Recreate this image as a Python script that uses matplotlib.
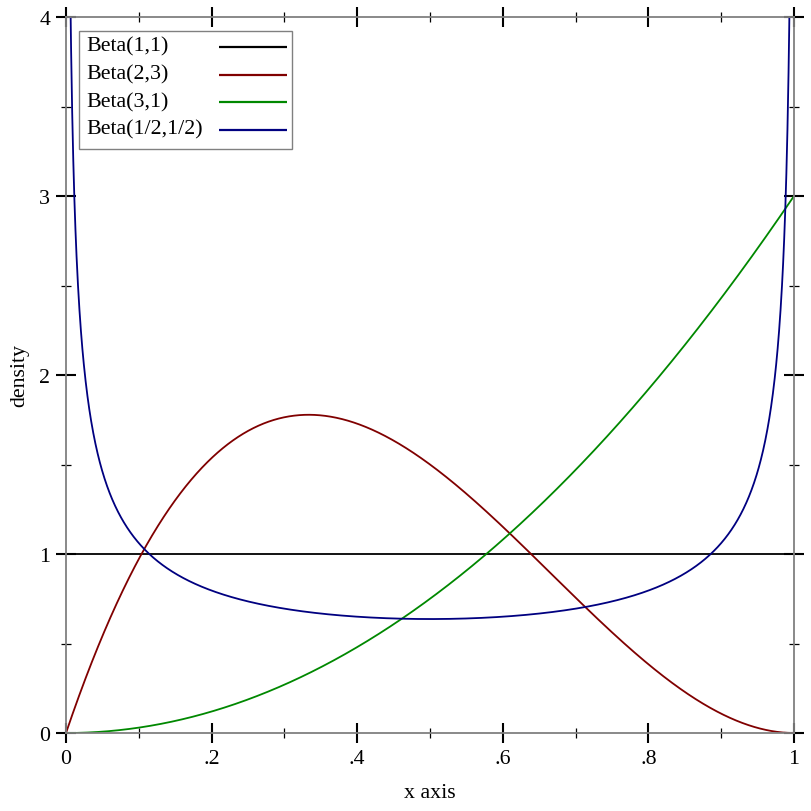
import math
import numpy as np
import matplotlib
matplotlib.use('Agg')
import matplotlib.pyplot as plt
from matplotlib.patches import Rectangle
from matplotlib.ticker import MultipleLocator, FixedLocator, FixedFormatter

# Data: Beta distribution parameters
labels = ['Beta(1,1)', 'Beta(2,3)', 'Beta(3,1)', 'Beta(1/2,1/2)']
alphas = [1.0, 2.0, 3.0, 0.5]
betas = [1.0, 3.0, 1.0, 0.5]
colors = ['#000000', '#800000', '#008800', '#000080']

x_ticks = [0, 0.2, 0.4, 0.6, 0.8, 1.0]
x_ticklabels = ['0', '.2', '.4', '.6', '.8', '1']
y_ticks = [0, 1, 2, 3, 4]


def beta_pdf(x, a, b):
    norm = math.gamma(a + b) / (math.gamma(a) * math.gamma(b))
    return norm * x ** (a - 1) * (1 - x) ** (b - 1)


fs = 15.75
plt.rcParams['font.family'] = ['Liberation Serif', 'DejaVu Serif']
plt.rcParams['font.size'] = fs

W = H = 812
L, R, T, B = 66, 794, 18, 734
fig = plt.figure(figsize=(8.12, 8.12), dpi=100, facecolor='white')
ax = fig.add_axes([L / W, 1 - B / H, (R - L) / W, (B - T) / H])


def ax_xy(px, py):
    # pixel position -> axes fraction
    return (px - L) / (R - L), (B - py) / (B - T)


xs = np.linspace(0.0005, 0.9995, 2000)
for lab, a, b, c in zip(labels, alphas, betas, colors):
    if a == 1 and b == 1:
        xx = np.array([0.0, 1.0])
    elif a >= 1 and b >= 1:
        xx = np.concatenate([[0.0], xs, [1.0]])
    else:
        xx = xs
    ax.plot(xx, beta_pdf(xx, a, b), color=c, lw=1.3, solid_capstyle='butt')

ax.set_xlim(0, 1)
ax.set_ylim(0, 4)

for s in ax.spines.values():
    s.set_color('#808080')
    s.set_linewidth(1.3)

ax.xaxis.set_major_locator(FixedLocator(x_ticks))
ax.xaxis.set_major_formatter(FixedFormatter(x_ticklabels))
ax.xaxis.set_minor_locator(MultipleLocator(0.1))
ax.yaxis.set_major_locator(FixedLocator(y_ticks))
ax.yaxis.set_minor_locator(MultipleLocator(0.5))

ax.tick_params(which='major', direction='inout', length=15, width=1.5,
               color='black', top=True, right=True, labelsize=fs, pad=4)
ax.tick_params(which='minor', direction='inout', length=7.2, width=0.9,
               color='black', top=True, right=True)

ax.set_xlabel('x axis', fontsize=fs)
ax.xaxis.set_label_coords(*ax_xy((L + R) / 2, 794))
ax.xaxis.label.set_va('center')
ax.set_ylabel('density', fontsize=fs)
ax.yaxis.set_label_coords(*ax_xy(19.5, (T + B) / 2))
ax.yaxis.label.set_va('center')

# legend drawn by hand: label on the left, line sample on the right
x0, y0 = ax_xy(79, 150)
x1, y1 = ax_xy(292, 32)
ax.add_patch(Rectangle((x0, y0), x1 - x0, y1 - y0, transform=ax.transAxes,
                       facecolor='white', edgecolor='#808080', lw=1.0,
                       zorder=5, clip_on=False))
for i, (lab, c) in enumerate(zip(labels, colors)):
    py = 47 + i * 27.7
    tx, ty = ax_xy(86, py)
    ax.text(tx, ty, lab, transform=ax.transAxes, ha='left', va='center',
            fontsize=fs, zorder=6)
    lx0, ly = ax_xy(219, py + 1)
    lx1, _ = ax_xy(287, py + 1)
    ax.plot([lx0, lx1], [ly, ly], transform=ax.transAxes, color=c, lw=1.6,
            zorder=6, clip_on=False, solid_capstyle='butt')

fig.savefig('out.png', dpi=100, facecolor='white')
